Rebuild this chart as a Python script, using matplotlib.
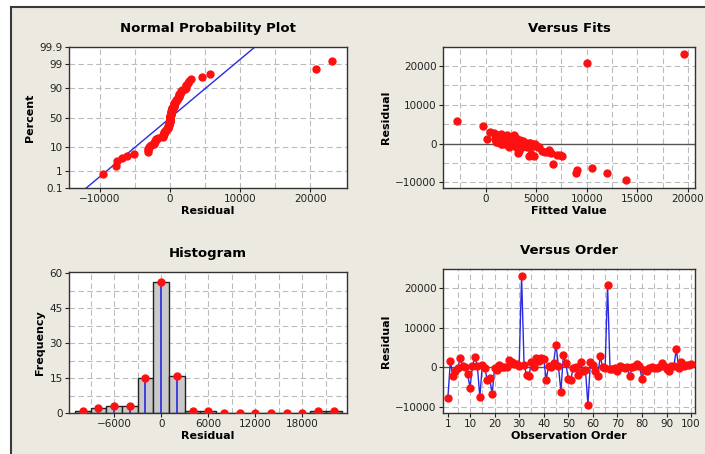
import matplotlib
matplotlib.use('Agg')
import matplotlib.pyplot as plt
import numpy as np
from statistics import NormalDist
from matplotlib.lines import Line2D
from matplotlib.patches import Rectangle

residuals = [-7700, 1500, -2200, -1000, -300, 2300, 200, 0, -1700, -5200,
             300, 2600, 200, -7600, 600, -200, -3200, -2700, -6900, -200,
             -700, 600, 0, 100, 0, 1700, 1400, 700, 800, 200,
             23000, 600, -2000, -2200, 1200, 0, 2300, 1500, 2200, 2100,
             -3200, 300, 0, 1000, 5700, 300, -6200, 3000, 1000, -3000,
             -3200, -300, 0, -2000, 1200, -1000, -700, -9500, 1200, 500,
             -1000, -2300, 2700, 0, -300, 20800, -600, -500, -300, -900,
             200, 0, -100, 0, -2300, 0, 300, 700, 200, -2900,
             -800, -900, -200, 0, -200, -300, 0, 1100, 300, -600,
             -1000, 200, 300, 4500, -200, 1300, 400, 600, 500, 900]

fitted = [8900, 1800, 5900, 4300, 3600, 1200, 2900, 3800, 6300, 6670,
          2500, 1500, 3300, 12050, 2100, 4100, 7600, 4450, 9070, 2700,
          4600, 2900, 2300, 3500, 1900, 1700, 2400, 3100, 1300, 4400,
          19570, 3700, 3300, 6200, 2000, 2600, 2100, 3000, 1600, 2800,
          4800, 1100, 4900, 3400, -2800, 2200, 10560, 430, 1400, 7100,
          4300, 4000, 1600, 5600, 2600, 5200, 3900, 13860, 900, 3200,
          3000, 3200, 800, 4200, 2400, 10000, 4700, 3500, 2800, 5300,
          2000, 3700, 3000, 1500, 6500, 4500, 2700, 1800, 3900, 7400,
          4100, 3600, 2500, 3300, 4700, 3100, 2200, 1900, 3800, 5000,
          2300, 4300, 1700, -230, 2900, 160, 2600, 3400, 1000, 2000]

# histogram (bin midpoints and counts)
hist_mid = [-10000, -8000, -6000, -4000, -2000, 0, 2000, 4000, 6000,
            8000, 10000, 12000, 14000, 16000, 18000, 20000, 22000]
hist_cnt = [1, 2, 3, 3, 15, 56, 16, 1, 1, 0, 0, 0, 0, 0, 0, 1, 1]

pct_ticks = [0.1, 1, 10, 50, 90, 99, 99.9]

RED = '#ff1010'
BLUE = '#2a2ae0'
GRID = '#bcbcbc'
BG = '#ece9e1'

W, H = 705, 454
def box(l, t, r, b):
    return [l / W, 1 - b / H, (r - l) / W, (b - t) / H]

fig = plt.figure(figsize=(W / 100, H / 100), dpi=100)
fig.patch.set_facecolor('white')
fig.add_artist(Rectangle((11 / W, 0), 1, 1 - 7 / H, transform=fig.transFigure,
                         facecolor=BG, edgecolor='none', zorder=-10))
fig.add_artist(Line2D([11 / W, 11 / W], [0, 1 - 7 / H], transform=fig.transFigure,
                      color='#3a3a3a', lw=1.5))
fig.add_artist(Line2D([11 / W, 1], [1 - 7 / H, 1 - 7 / H], transform=fig.transFigure,
                      color='#3a3a3a', lw=1.5))

def style(ax, title, xlabel, ylabel):
    ax.set_facecolor('white')
    ax.set_title(title, fontsize=9.5, fontweight='bold', pad=11)
    ax.set_xlabel(xlabel, fontsize=8, fontweight='bold', labelpad=1)
    ax.set_ylabel(ylabel, fontsize=8, fontweight='bold', labelpad=3)
    ax.tick_params(labelsize=7.5, length=3, width=0.8, pad=1.5, colors='#222222')
    for s in ax.spines.values():
        s.set_color('#333333')
        s.set_linewidth(1.0)

def dash_grid(ax, xs, ys):
    for x in xs:
        ax.axvline(x, color=GRID, lw=0.8, ls=(0, (5, 3)), zorder=0)
    for y in ys:
        ax.axhline(y, color=GRID, lw=0.8, ls=(0, (5, 3)), zorder=0)

nd = NormalDist()
res = np.array(residuals, dtype=float)
fit = np.array(fitted, dtype=float)
n = len(res)

# --- Normal probability plot
ax1 = fig.add_axes(box(69, 47, 347, 188))
srt = np.sort(res)
z = np.array([nd.inv_cdf((i - 0.3) / (n + 0.4)) for i in range(1, n + 1)])
mu, sd = res.mean(), res.std(ddof=1)
zz = np.array([-3.5, 3.5])
ax1.plot(mu + sd * zz, zz, color=BLUE, lw=1, zorder=2)
ax1.plot(srt, z, 'o', color=RED, ms=5, zorder=3)
zt = [nd.inv_cdf(p / 100) for p in pct_ticks]
ax1.set_yticks(zt)
ax1.set_yticklabels([str(p) for p in pct_ticks])
ax1.set_ylim(zt[0], zt[-1])
ax1.set_xlim(-14400, 25200)
ax1.set_xticks([-10000, 0, 10000, 20000])
dash_grid(ax1, range(-10000, 25000, 5000), zt[1:-1])
style(ax1, 'Normal Probability Plot', 'Residual', 'Percent')

# --- Versus fits
ax2 = fig.add_axes(box(443, 47, 695, 188))
ax2.axhline(0, color='#555555', lw=1, zorder=1)
ax2.plot(fit, res, 'o', color=RED, ms=5, zorder=3)
ax2.set_xlim(-4200, 20700)
ax2.set_ylim(-11450, 24900)
ax2.set_xticks([0, 5000, 10000, 15000, 20000])
ax2.set_yticks([-10000, 0, 10000, 20000])
dash_grid(ax2, np.arange(-2500, 20001, 2500), [-10000, -5000, 5000, 10000, 15000, 20000])
style(ax2, 'Versus Fits', 'Fitted Value', 'Residual')

# --- Histogram
ax3 = fig.add_axes(box(69, 272, 347, 413))
ax3.bar(hist_mid, hist_cnt, width=2000, color='#c9c9c9', edgecolor='#222222', lw=1, zorder=2)
ax3.vlines(hist_mid, 0, hist_cnt, color=BLUE, lw=1.2, zorder=3)
ax3.plot(hist_mid, hist_cnt, 'o', color=RED, ms=5, zorder=4)
ax3.set_xlim(-11750, 23700)
ax3.set_ylim(0, 60.5)
ax3.set_xticks([-6000, 0, 6000, 12000, 18000])
ax3.set_yticks([0, 15, 30, 45, 60])
dash_grid(ax3, range(-9000, 23000, 3000), np.arange(7.5, 60, 7.5))
style(ax3, 'Histogram', 'Residual', 'Frequency')

# --- Versus order
ax4 = fig.add_axes(box(443, 269, 695, 413))
order = np.arange(1, n + 1)
ax4.axhline(0, color='#555555', lw=1, zorder=1)
ax4.plot(order, res, color=BLUE, lw=1, zorder=2)
ax4.plot(order, res, 'o', color=RED, ms=5, zorder=3)
ax4.set_xlim(-1, 101.6)
ax4.set_ylim(-11600, 24800)
ax4.set_xticks([1] + list(range(10, 101, 10)))
ax4.set_yticks([-10000, 0, 10000, 20000])
dash_grid(ax4, range(5, 101, 5), [-10000, -5000, 5000, 10000, 15000, 20000])
style(ax4, 'Versus Order', 'Observation Order', 'Residual')

fig.savefig('out.png', dpi=100, facecolor=fig.get_facecolor())
